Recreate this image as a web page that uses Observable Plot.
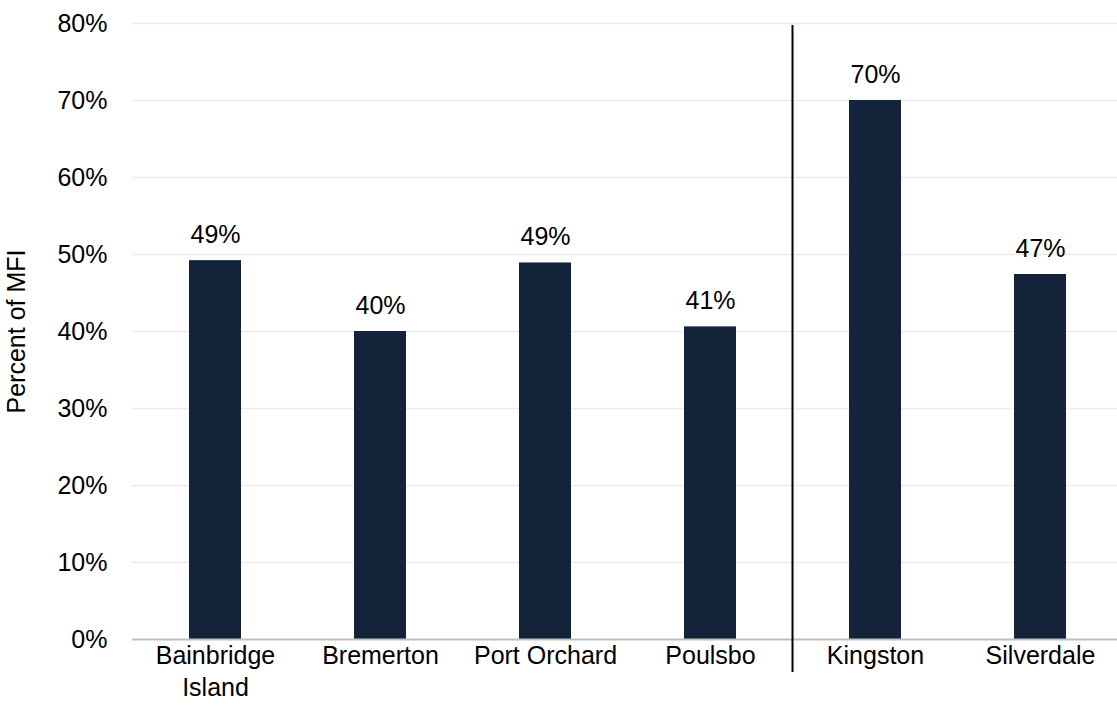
<!DOCTYPE html>
<html>
<head>
<meta charset="utf-8">
<script src="https://cdn.jsdelivr.net/npm/d3@7"></script>
<script src="https://cdn.jsdelivr.net/npm/@observablehq/plot@0.6"></script>
<style>
  html, body { margin: 0; padding: 0; background: #fff; }
  #chart svg { display: block; }
</style>
</head>
<body>
<div id="chart"></div>
<script>
// Median-family-income share by community
const places = ["Bainbridge Island", "Bremerton", "Port Orchard", "Poulsbo", "Kingston", "Silverdale"];
const shares = [0.492, 0.400, 0.489, 0.406, 0.700, 0.474];
const yTicks = [0, 0.1, 0.2, 0.3, 0.4, 0.5, 0.6, 0.7, 0.8];
const yLabel = "Percent of MFI";
const groupBreak = "Kingston"; // first place of the second group

const rows = places.map((place, i) => ({place, share: shares[i]}));

const W = 1117, H = 717;
const plotLeft = 132, step = 165.3;
const font = "'Liberation Sans', Arial, sans-serif";
const barColor = "#13233a";

// Separator drawn between two groups of places, from the scales
function divider(index, scales, values, dimensions) {
  const x = scales.x;
  const xb = x(groupBreak) - (x.step() - x.bandwidth()) / 2;
  const line = document.createElementNS("http://www.w3.org/2000/svg", "line");
  line.setAttribute("x1", xb);
  line.setAttribute("x2", xb);
  line.setAttribute("y1", scales.y(0.8) + 2);
  line.setAttribute("y2", scales.y(0) + 33);
  line.setAttribute("stroke", "#000");
  line.setAttribute("stroke-width", 2);
  return line;
}

const chart = Plot.plot({
  width: W,
  height: H,
  marginLeft: plotLeft,
  marginRight: 0,
  marginTop: 23,
  marginBottom: 78,
  style: {fontFamily: font, fontSize: "25px", color: "#000", background: "#fff"},
  x: {domain: places, range: [plotLeft, plotLeft + step * places.length], paddingInner: 0.685, paddingOuter: 0.3425},
  y: {domain: [0, 0.8]},
  marks: [
    Plot.ruleY(yTicks.filter(d => d > 0), {stroke: "#ebebeb", strokeWidth: 1.5}),
    Plot.barY(rows, {x: "place", y: "share", fill: barColor}),
    Plot.ruleY([0], {stroke: "#bfbfbf", strokeWidth: 2}),
    Plot.text(rows, {
      x: "place", y: "share",
      text: d => d3.format(".0%")(d.share),
      lineAnchor: "bottom", dy: -18,
      fill: "#000", fontSize: 25
    }),
    Plot.axisY({
      ticks: yTicks, tickFormat: d3.format(".0%"), tickSize: 0, tickPadding: 25,
      fontSize: 25, label: yLabel, labelAnchor: "center", labelArrow: "none", labelOffset: 125
    }),
    Plot.axisX({
      tickSize: 0, tickPadding: 1, fontSize: 25, lineWidth: 6.5, lineHeight: 1.3, label: null
    }),
    divider
  ]
});

document.getElementById("chart").append(chart);
</script>
</body>
</html>
